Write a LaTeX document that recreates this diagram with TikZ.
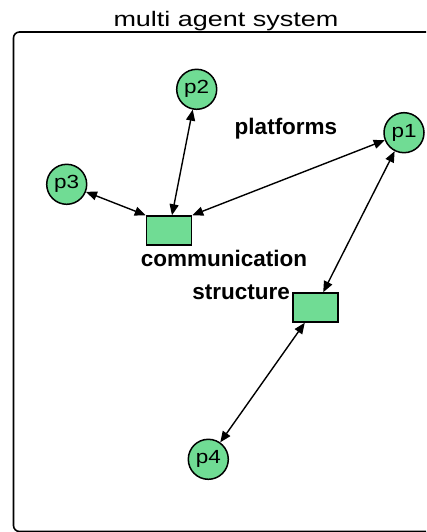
\documentclass[tikz,border=0pt]{standalone}
\usepackage{fontspec}
\setmainfont{Liberation Sans}
\usetikzlibrary{arrows.meta}
\definecolor{nodegreen}{RGB}{112,220,148}
\newcommand{\plabel}[1]{\resizebox{25pt}{\height}{#1}}
\tikzset{
  plat/.style={circle, draw=black, line width=1.5pt, fill=nodegreen, minimum size=40pt, inner sep=0pt, font=\fontsize{19}{21}\selectfont},
  comm/.style={rectangle, draw=black, line width=1.5pt, fill=nodegreen, minimum width=45pt, minimum height=29pt, inner sep=0pt},
  link/.style={line width=1.4pt, {Triangle[length=11pt,width=9pt]}-{Triangle[length=11pt,width=9pt]}},
  lbl/.style={font=\fontsize{22.5}{24}\selectfont\bfseries, inner sep=0pt},
}
\begin{document}
\begin{tikzpicture}[x=1pt,y=-1pt]
\useasboundingbox (0,0) rectangle (426,532);
\begin{scope}
\clip (0,0) rectangle (426,532);
\draw[line width=1.6pt, rounded corners=6pt] (13.5,32) rectangle (450,531.5);
\end{scope}
\node[inner sep=0pt, anchor=base, font=\fontsize{21}{23}\selectfont] (title) at (226,26.5) {\resizebox{225pt}{\height}{multi agent system}};
\node[plat] (p1) at (404,132.7) {\plabel{p1}};
\node[plat] (p2) at (196.7,89.3) {\plabel{p2}};
\node[plat] (p3) at (66.7,184.3) {\plabel{p3}};
\node[plat] (p4) at (208.3,459.3) {\plabel{p4}};
\node[comm] (r1) at (169,230.5) {};
\node[comm] (r2) at (315.5,307.5) {};
\node[lbl, anchor=base] (lp) at (286,135) {platforms};
\node[lbl, anchor=base] (lc) at (224,266) {communication};
\node[lbl, anchor=base east] (ls) at (290,299) {structure};
\draw[link] (p3) -- (r1.north west);
\draw[link] (p2) -- (r1);
\draw[link] (p1) -- (r1.north east);
\draw[link] (p1) -- (r2);
\draw[link] (r2) -- (p4);
\end{tikzpicture}
\end{document}
